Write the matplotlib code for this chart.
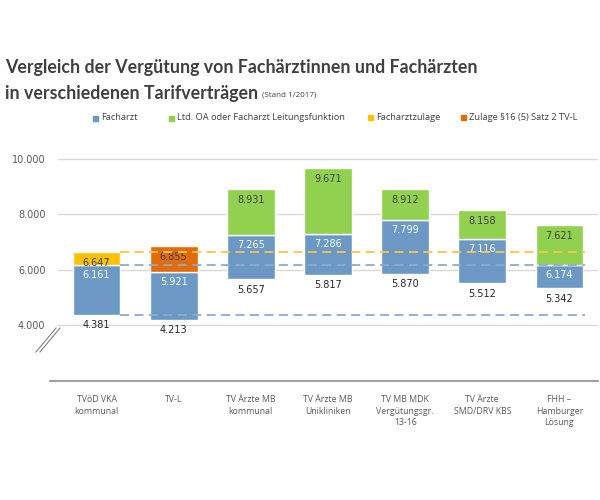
import matplotlib
matplotlib.use("Agg")
import matplotlib.pyplot as plt
from matplotlib.lines import Line2D
from matplotlib.patches import Rectangle

categories = ["TVöD VKA\nkommunal", "TV-L", "TV Ärzte MB\nkommunal", "TV Ärzte MB\nUnikliniken",
              "TV MB MDK\nVergütungsgr.\n13-16", "TV Ärzte\nSMD/DRV KBS", "FHH –\nHamburger\nLösung"]
facharzt_low = [4381, 4213, 5657, 5817, 5870, 5512, 5342]
facharzt_high = [6161, 5921, 7265, 7286, 7799, 7116, 6174]
top_values = [6647, 6855, 8931, 9671, 8912, 8158, 7621]
top_kind = ["zulage", "zulage16", "ltd", "ltd", "ltd", "ltd", "ltd"]
yticks = [4000, 6000, 8000, 10000]
ref_lines = [(6647, "yellow"), (6161, "blue"), (4381, "blue")]

C_BLUE = "#6b98c4"
C_GREEN = "#92d050"
C_YELLOW = "#ffc000"
C_ORANGE = "#e36c0a"
kind_color = {"zulage": C_YELLOW, "zulage16": C_ORANGE, "ltd": C_GREEN}
TXT = "#404040"

def fmt(v):
    return f"{v:,}".replace(",", ".")

fig = plt.figure(figsize=(6, 5), dpi=100)
ax = fig.add_axes([58/600, 1-381/500, 540/600, (381-145)/500])
ax.set_xlim(-0.5, 6.5)
ax.set_ylim(2000, 10500)
for s in ax.spines.values():
    s.set_visible(False)
ax.set_yticks(yticks)
ax.set_yticklabels([fmt(v) for v in yticks], fontsize=7, color="#595959", family="DejaVu Sans")
ax.tick_params(axis="y", length=0, pad=9)
ax.set_xticks(range(len(categories)))
ax.set_xticklabels(categories, fontsize=6.3, color="#595959", family="Open Sans", linespacing=1.4, va="top")
ax.tick_params(axis="x", length=0, pad=10)
for v in yticks:
    ax.axhline(v, color="#d9d9d9", lw=1, zorder=0)

# bottom axis line extending left
fig.add_artist(Line2D([50/600, 598/600], [1-381/500, 1-381/500], color="#8c8c8c", lw=1.2))
# break marks
for dx in (0, 4):
    fig.add_artist(Line2D([(36+dx)/600, (56+dx)/600], [1-352/500, 1-328/500], color="#808080", lw=0.8))

w = 0.62
for i in range(len(categories)):
    lo, hi, top = facharzt_low[i], facharzt_high[i], top_values[i]
    ax.bar(i, hi-lo, bottom=lo, width=w, color=C_BLUE, edgecolor="white", linewidth=1, zorder=2)
    ax.bar(i, top-hi, bottom=hi, width=w, color=kind_color[top_kind[i]], edgecolor="white", linewidth=1, zorder=2)
    ax.annotate(fmt(lo), (i, lo), xytext=(0, -7.5), textcoords="offset points", ha="center", va="center",
                fontsize=7, color="#262626")
    ax.annotate(fmt(hi), (i, hi), xytext=(0, -7), textcoords="offset points", ha="center", va="center",
                fontsize=7, color="white")
    ax.annotate(fmt(top), (i, top), xytext=(0, -8), textcoords="offset points", ha="center", va="center",
                fontsize=7, color=TXT)

for v, c in ref_lines:
    col = "#f7c64a" if c == "yellow" else "#8faacb"
    ax.plot([w/2, 6.33], [v, v], ls=(0, (5, 3)), color=col, lw=1.3, zorder=3)

# title
fig.text(5/600, 1-68/500, "Vergleich der Vergütung von Fachärztinnen und Fachärzten",
         fontsize=12.8, fontweight="bold", family="Lato", color="#404040", va="center")
t2 = fig.text(5/600, 1-93/500, "in verschiedenen Tarifverträgen",
              fontsize=12.8, fontweight="bold", family="Lato", color="#404040", va="center")
fig.canvas.draw()
bb = t2.get_window_extent()
fig.text((bb.x1 + 4)/600, 1-95/500, "(Stand 1/2017)", fontsize=5.8, family="Open Sans", color="#404040", va="center")

# legend
leg = [(93, C_BLUE, "Facharzt", 118), (169, C_GREEN, "Ltd. OA oder Facharzt Leitungsfunktion", 118),
       (368, C_YELLOW, "Facharztzulage", 117), (461, C_ORANGE, "Zulage §16 (5) Satz 2 TV-L", 117)]
for x, c, lab, y in leg:
    fig.add_artist(Rectangle((x/600, 1-(y+2.5)/500), 5/600, 5/500, color=c))
    fig.text((x+8)/600, 1-y/500, lab, fontsize=6.7, family="Open Sans", color="#404040", va="center")

fig.savefig("out.png", dpi=100, facecolor="white")
